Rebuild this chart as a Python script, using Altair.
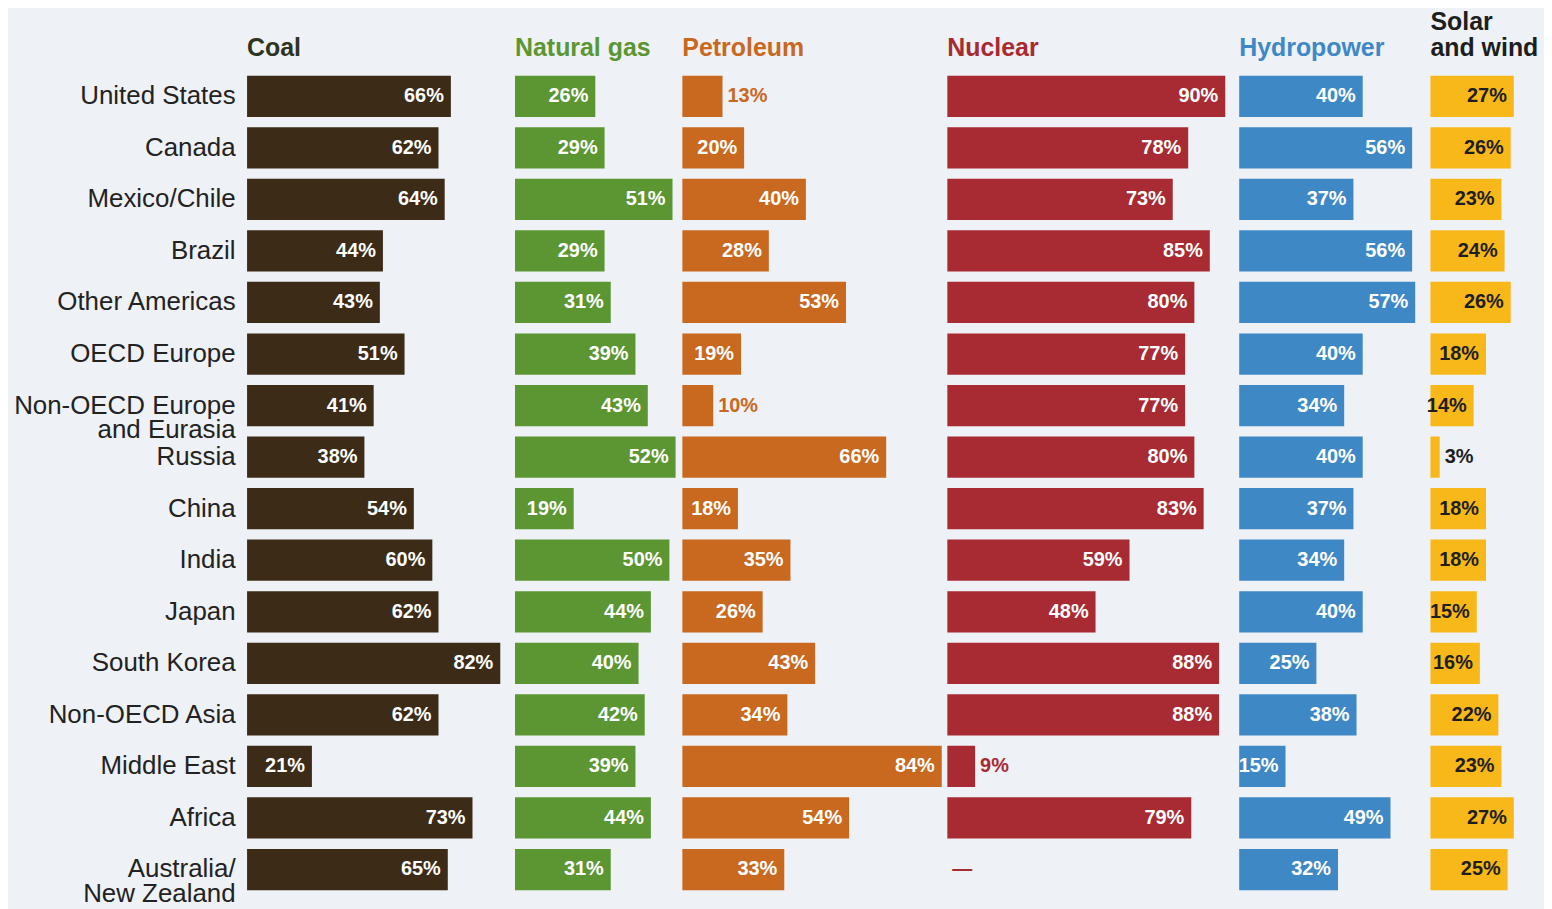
import altair as alt
import pandas as pd

FONT = "Liberation Sans"

regions = [
    "United States", "Canada", "Mexico/Chile", "Brazil", "Other Americas",
    "OECD Europe", "Non-OECD Europe and Eurasia", "Russia", "China", "India",
    "Japan", "South Korea", "Non-OECD Asia", "Middle East", "Africa",
    "Australia/New Zealand",
]
sources = ["Coal", "Natural gas", "Petroleum", "Nuclear", "Hydropower", "Solar and wind"]

coal = [66, 62, 64, 44, 43, 51, 41, 38, 54, 60, 62, 82, 62, 21, 73, 65]
natural_gas = [26, 29, 51, 29, 31, 39, 43, 52, 19, 50, 44, 40, 42, 39, 44, 31]
petroleum = [13, 20, 40, 28, 53, 19, 10, 66, 18, 35, 26, 43, 34, 84, 54, 33]
nuclear = [90, 78, 73, 85, 80, 77, 77, 80, 83, 59, 48, 88, 88, 9, 79, None]
hydropower = [40, 56, 37, 56, 57, 40, 34, 40, 37, 34, 40, 25, 38, 15, 49, 32]
solar_wind = [27, 26, 23, 24, 26, 18, 14, 3, 18, 18, 15, 16, 22, 23, 27, 25]
series = [coal, natural_gas, petroleum, nuclear, hydropower, solar_wind]

header_lines = [[" ", "Coal"], [" ", "Natural gas"], [" ", "Petroleum"],
                [" ", "Nuclear"], [" ", "Hydropower"], ["Solar", "and wind"]]

bar_colors = ["#3b2b17", "#5b9632", "#c9681f", "#a82a32", "#3f88c6", "#f8b81a"]
header_colors = ["#2e3322", "#5b9632", "#c9681f", "#a82a32", "#3f88c6", "#1e1e1e"]
inside_text_colors = ["#ffffff", "#ffffff", "#ffffff", "#ffffff", "#ffffff", "#1e1e1e"]
outside_text_colors = ["#3b2b17", "#5b9632", "#c9681f", "#a82a32", "#3f88c6", "#1e1e1e"]

# layout
panel_widths = [269, 168, 266, 292, 188, 114]
PX_PER_PCT = 3.1
PLOT_H = 828

rows = []
for s, vals in zip(sources, series):
    for r, v in zip(regions, vals):
        rows.append({"region": r, "source": s, "value": v})
df = pd.DataFrame(rows)

label_expr = (
    "datum.label == 'Non-OECD Europe and Eurasia' ? ['Non-OECD Europe', 'and Eurasia'] : "
    "datum.label == 'Australia/New Zealand' ? ['Australia/', 'New Zealand'] : datum.label"
)


def panel(i):
    s = sources[i]
    w = panel_widths[i]
    dmax = w / PX_PER_PCT
    xscale = alt.Scale(domain=[0, dmax], nice=False, zero=True)
    if i == 0:
        yaxis = alt.Axis(
            title=None, labelExpr=label_expr, labelFont=FONT, labelFontSize=26,
            labelColor="#222222", labelPadding=12, labelLineHeight=25,
            ticks=False, domain=False, minExtent=240, maxExtent=240, labelLimit=400,
            grid=False,
        )
    else:
        yaxis = None
    y = alt.Y("region:N", sort=regions,
              scale=alt.Scale(paddingInner=0.2, paddingOuter=0.1),
              axis=yaxis, title=None)

    base = alt.Chart(df).transform_filter(alt.datum.source == s)

    bars = base.transform_filter("isValid(datum.value)").mark_bar(
        color=bar_colors[i]
    ).encode(x=alt.X("value:Q", scale=xscale, axis=None), y=y)

    inside = base.transform_filter(
        "isValid(datum.value) && datum.value >= 14"
    ).transform_calculate(
        label="datum.value + '%'"
    ).mark_text(
        align="right", baseline="middle", dx=-7, font=FONT, fontSize=20,
        fontWeight="bold", color=inside_text_colors[i]
    ).encode(x=alt.X("value:Q", scale=xscale, axis=None), y=y, text="label:N")

    outside = base.transform_filter(
        "!isValid(datum.value) || datum.value < 14"
    ).transform_calculate(
        label="isValid(datum.value) ? datum.value + '%' : '—'",
        xpos="isValid(datum.value) ? datum.value : 0",
    ).mark_text(
        align="left", baseline="middle", dx=5, font=FONT, fontSize=20,
        fontWeight="bold", color=outside_text_colors[i]
    ).encode(x=alt.X("xpos:Q", scale=xscale, axis=None), y=y, text="label:N")

    return alt.layer(bars, inside, outside).properties(
        width=w, height=PLOT_H,
        title=alt.TitleParams(
            text=header_lines[i], anchor="start", frame="group",
            color=header_colors[i], font=FONT, fontSize=25, fontWeight="bold",
            lineHeight=26, offset=10,
        ),
    )


chart = alt.hconcat(*[panel(i) for i in range(len(sources))], spacing=0).properties(
    padding=0, background="#eef1f5"
).configure_view(stroke=None)

chart.save("out.html", embed_options={"renderer": "svg", "actions": False})
